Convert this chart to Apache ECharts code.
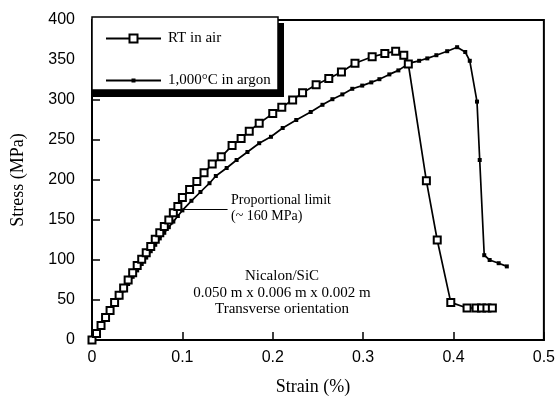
<!DOCTYPE html>
<html>
<head>
<meta charset="utf-8">
<script src="https://cdn.jsdelivr.net/npm/echarts@6/dist/echarts.min.js"></script>
<style>
  html, body { margin: 0; padding: 0; background: #fff; }
  #chart { width: 558px; height: 407px; }
</style>
</head>
<body>
<div id="chart"></div>
<script>
// strain (%) / stress (MPa) pairs
const rtInAir = [
  [0, 0], [0.005, 8], [0.01, 18], [0.015, 28], [0.02, 37], [0.025, 47], [0.03, 56],
  [0.035, 65], [0.04, 75], [0.045, 84], [0.05, 93], [0.055, 101], [0.06, 109],
  [0.065, 117], [0.07, 126], [0.075, 134], [0.08, 142], [0.085, 150], [0.09, 159],
  [0.095, 167], [0.1, 178], [0.108, 188], [0.116, 198], [0.124, 209], [0.133, 220],
  [0.143, 229], [0.155, 243], [0.165, 252], [0.174, 261], [0.185, 271], [0.2, 283],
  [0.21, 291], [0.222, 300], [0.233, 309], [0.248, 319], [0.262, 327], [0.276, 335],
  [0.291, 346], [0.31, 354], [0.324, 358], [0.336, 361], [0.345, 356], [0.35, 345],
  [0.37, 199], [0.382, 125], [0.397, 47], [0.415, 40], [0.425, 40], [0.431, 40],
  [0.437, 40], [0.443, 40]
];
const argon1000 = [
  [0, 0], [0.005, 8], [0.01, 17], [0.015, 26], [0.02, 35], [0.025, 44], [0.03, 53],
  [0.035, 62], [0.04, 70], [0.045, 79], [0.05, 87], [0.055, 95], [0.06, 103],
  [0.065, 111], [0.07, 119], [0.075, 127], [0.08, 134], [0.085, 141], [0.09, 148],
  [0.095, 155], [0.1, 162], [0.11, 174], [0.12, 185], [0.13, 196], [0.137, 205],
  [0.149, 215], [0.16, 225], [0.172, 235], [0.185, 246], [0.198, 254], [0.211, 265],
  [0.226, 275], [0.242, 285], [0.255, 294], [0.266, 301], [0.277, 307], [0.288, 314],
  [0.299, 318], [0.309, 322], [0.318, 326], [0.329, 332], [0.339, 337], [0.351, 346],
  [0.362, 349], [0.371, 352], [0.381, 356], [0.393, 361], [0.404, 366], [0.413, 360],
  [0.418, 349], [0.426, 298], [0.429, 225], [0.434, 106], [0.44, 100], [0.45, 96],
  [0.459, 92]
];
const seriesNames = ['RT in air', '1,000°C in argon'];
const noteLines = ['Nicalon/SiC', '0.050 m x 0.006 m x 0.002 m', 'Transverse orientation'];
const limitLines = ['Proportional limit', '(~ 160 MPa)'];
const limitArrow = [[0.15, 163], [0.1, 163]];

const serif = '"Liberation Serif", "DejaVu Serif", serif';
const sans = 'Liberation Sans';

const chart = echarts.init(document.getElementById('chart'));

// one legend per series so each icon keeps its own marker size
function legendFor(name, top, itemHeight) {
  return {
    data: [name],
    orient: 'vertical',
    left: 105, top: top,
    padding: 0,
    itemWidth: 55, itemHeight: itemHeight, itemGap: 8,
    textStyle: { fontFamily: serif, fontSize: 15, color: '#000', padding: [0, 0, 0, 2] },
    z: 10
  };
}

const option = {
  animation: false,
  backgroundColor: '#fff',
  grid: {
    left: 92, right: 13, top: 20, bottom: 67,
    show: true, borderColor: '#000', borderWidth: 2
  },
  legend: [
    legendFor(seriesNames[0], 31, 10),
    legendFor(seriesNames[1], 73, 5)
  ],
  xAxis: {
    type: 'value', min: 0, max: 0.5, interval: 0.1,
    name: 'Strain (%)', nameLocation: 'middle', nameGap: 38,
    nameTextStyle: { fontFamily: serif, fontSize: 18, color: '#000', padding: [0, 10, 0, 0] },
    axisLine: { lineStyle: { color: '#000', width: 2 } },
    axisTick: { inside: true, length: 8, lineStyle: { color: '#000', width: 1.5 } },
    axisLabel: { fontFamily: sans, fontSize: 16, color: '#000', margin: 10 },
    splitLine: { show: false }
  },
  yAxis: {
    type: 'value', min: 0, max: 400, interval: 50,
    name: 'Stress (MPa)', nameLocation: 'middle', nameGap: 65,
    nameTextStyle: { fontFamily: serif, fontSize: 18, color: '#000' },
    axisLine: { show: true, lineStyle: { color: '#000', width: 2 } },
    axisTick: { show: true, inside: true, length: 8, lineStyle: { color: '#000', width: 1.5 } },
    axisLabel: { fontFamily: sans, fontSize: 16, color: '#000', margin: 17 },
    splitLine: { show: false }
  },
  series: [
    {
      name: seriesNames[0],
      type: 'line',
      data: rtInAir,
      symbol: 'emptyRect',
      symbolSize: 7,
      lineStyle: { color: '#000', width: 1.7 },
      itemStyle: { color: '#000', borderWidth: 1.4 },
      z: 3
    },
    {
      name: seriesNames[1],
      type: 'line',
      data: argon1000,
      symbol: 'rect',
      symbolSize: 4,
      lineStyle: { color: '#000', width: 1.7 },
      itemStyle: { color: '#000' },
      markLine: {
        silent: true,
        symbol: ['none', 'arrow'],
        symbolSize: [0, 14],
        label: { show: false },
        lineStyle: { color: '#000', width: 1.2, type: 'solid' },
        data: [[{ coord: limitArrow[0] }, { coord: limitArrow[1] }]]
      },
      z: 2
    }
  ],
  graphic: [
    // legend frame with its drop shadow
    { type: 'rect', z: 5, shape: { x: 92, y: 23, width: 192, height: 74 }, style: { fill: '#000' } },
    { type: 'rect', z: 6, shape: { x: 92, y: 17, width: 186, height: 73 }, style: { fill: '#fff', stroke: '#000', lineWidth: 1.5 } },
    {
      type: 'text', x: 231, y: 192, z: 6,
      style: { text: limitLines.join('\n'), font: '14px ' + serif, fill: '#000', lineHeight: 16 }
    },
    {
      type: 'text', x: 282, y: 268, z: 6,
      style: {
        text: noteLines.join('\n'), font: '15px ' + serif, fill: '#000',
        align: 'center', lineHeight: 16.5
      }
    }
  ]
};

chart.setOption(option);
</script>
</body>
</html>
